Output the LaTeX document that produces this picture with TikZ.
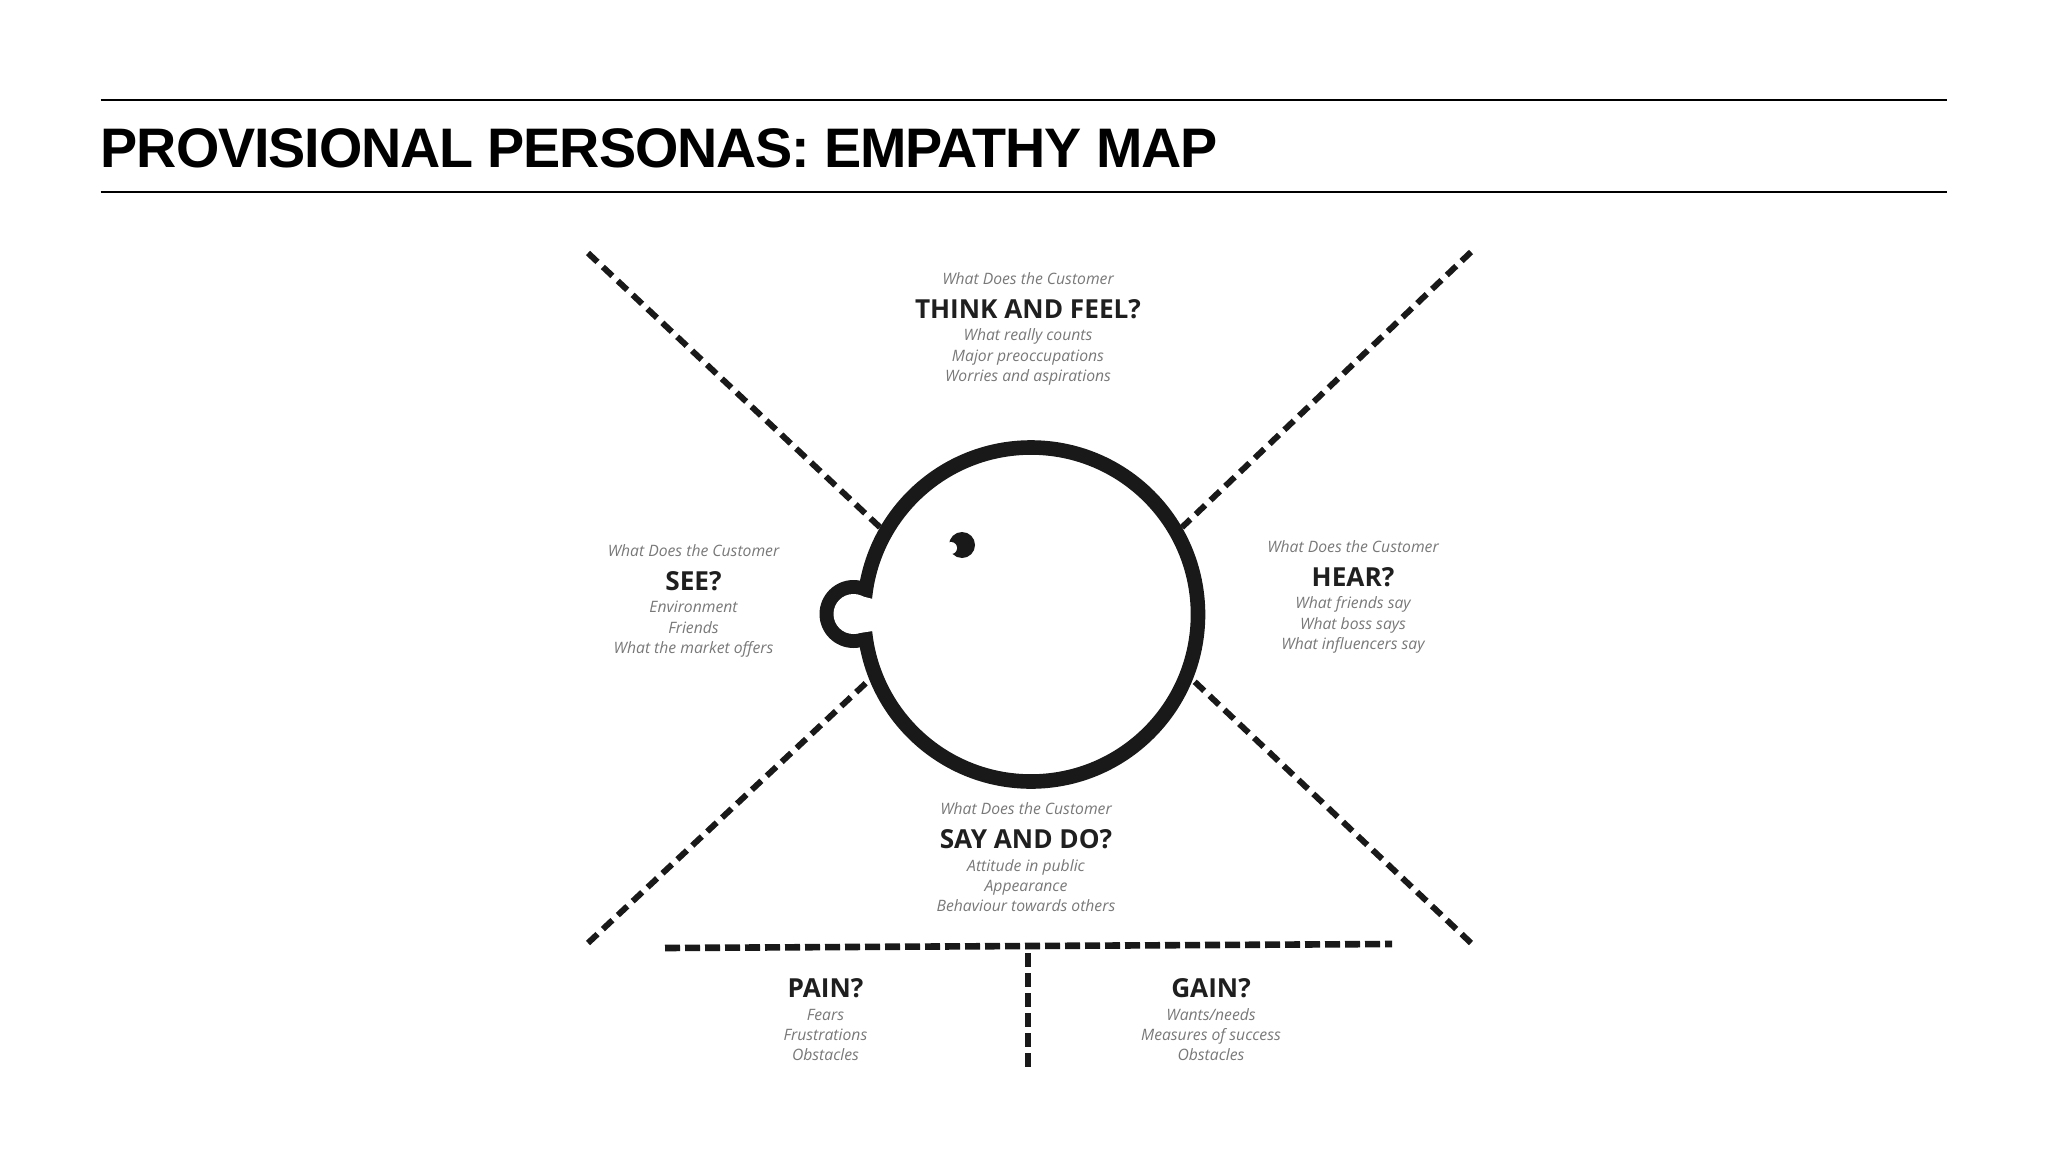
\documentclass[tikz,border=0pt]{standalone}
\usepackage{fontspec}
\setmainfont{Liberation Sans}
\newfontfamily\mapfont{Open Sans}
\newcommand{\mapital}{\mapfont\itshape\fontsize{7.85}{10.15}\selectfont\color{mapgrey}}
\newcommand{\maphead}[1]{{\mapfont\upshape\bfseries\fontsize{13.1}{10.15}\selectfont\color{mapdark}#1}}
\definecolor{mapgrey}{gray}{0.47}
\definecolor{mapdark}{gray}{0.12}
\definecolor{mapblack}{gray}{0.1}
\tikzset{
  x=0.5pt,y=-0.5pt,
  rulebar/.style={line width=1pt,black},
  titletext/.style={font=\bfseries\fontsize{27.85}{32}\selectfont\addfontfeature{LetterSpace=-2},anchor=west,inner sep=0pt},
  headring/.style={circle,draw=mapblack,line width=7.3pt,fill=white,minimum size=334pt/2,inner sep=0pt},
  diag/.style={mapblack,line width=3pt,dash pattern=on 6.5pt off 3.7pt},
  straightdash/.style={mapblack,line width=3.3pt,dash pattern=on 7.5pt off 2.5pt},
  upright/.style={mapblack,line width=3.3pt,dash pattern=on 7pt off 3pt},
  block/.style={align=center,inner sep=0pt,font=\mapital},
}
\begin{document}
\begin{tikzpicture}
\useasboundingbox (0,0) rectangle (2048,1150);
\coordinate (r1a) at (100.5,100); \coordinate (r1b) at (1947,100);
\coordinate (r2a) at (100.5,192); \coordinate (r2b) at (1947,192);
\draw[rulebar] (r1a) -- (r1b);
\draw[rulebar] (r2a) -- (r2b);
\node[titletext] (title) at (100.5,148.5) {PROVISIONAL PERSONAS: EMPATHY MAP};

% nose behind head
\node[circle,fill=mapblack,minimum size=34pt,inner sep=0pt] (noseout) at (853.5,614) {};
\node[headring] (head) at (1031,614.5) {};
\fill[white] (853,594) -- (873,599) -- (873,631) -- (853,634) -- cycle;
\node[circle,fill=white,minimum size=20pt,inner sep=0pt] (nosein) at (853.5,614) {};
% eye
\node[circle,fill=mapblack,minimum size=13pt,inner sep=0pt] (eye) at (962,545) {};
\node[circle,fill=white,minimum size=6pt,inner sep=0pt] (eyebite) at (951,548) {};

\coordinate (tl) at (588,253); \coordinate (tr) at (1471,252);
\coordinate (bl) at (588,943); \coordinate (br) at (1471,943);
\coordinate (hl) at (665,948); \coordinate (hr) at (1392,944);
\coordinate (vt) at (1028,953); \coordinate (vb) at (1028,1070);
\draw[diag] (tl) -- (head.150);
\draw[diag] (tr) -- (head.30.7);
\draw[diag] (bl) -- (head.202);
\draw[diag] (br) -- (head.-22.6);
\draw[straightdash] (hl) -- (hr);
\draw[upright] (vt) -- (vb);

\node[block] (think) at (1028,329) {What Does the Customer\\[6.8pt]\maphead{THINK AND FEEL?}\\[1pt]What really counts\\Major preoccupations\\Worries and aspirations};
\node[block] (see) at (693.5,601) {What Does the Customer\\[6.8pt]\maphead{SEE?}\\[1pt]Environment\\Friends\\What the market offers};
\node[block] (hear) at (1353,597) {What Does the Customer\\[6.8pt]\maphead{HEAR?}\\[1pt]What friends say\\What boss says\\What influencers say};
\node[block] (say) at (1026,857.5) {What Does the Customer\\[6.8pt]\maphead{SAY AND DO?}\\[1pt]Attitude in public\\Appearance\\Behaviour towards others};
\node[block] (pain) at (825.5,1020) {\maphead{PAIN?}\\[1pt]Fears\\Frustrations\\Obstacles};
\node[block] (gain) at (1211,1020) {\maphead{GAIN?}\\[1pt]Wants/needs\\Measures of success\\Obstacles};
\end{tikzpicture}
\end{document}
